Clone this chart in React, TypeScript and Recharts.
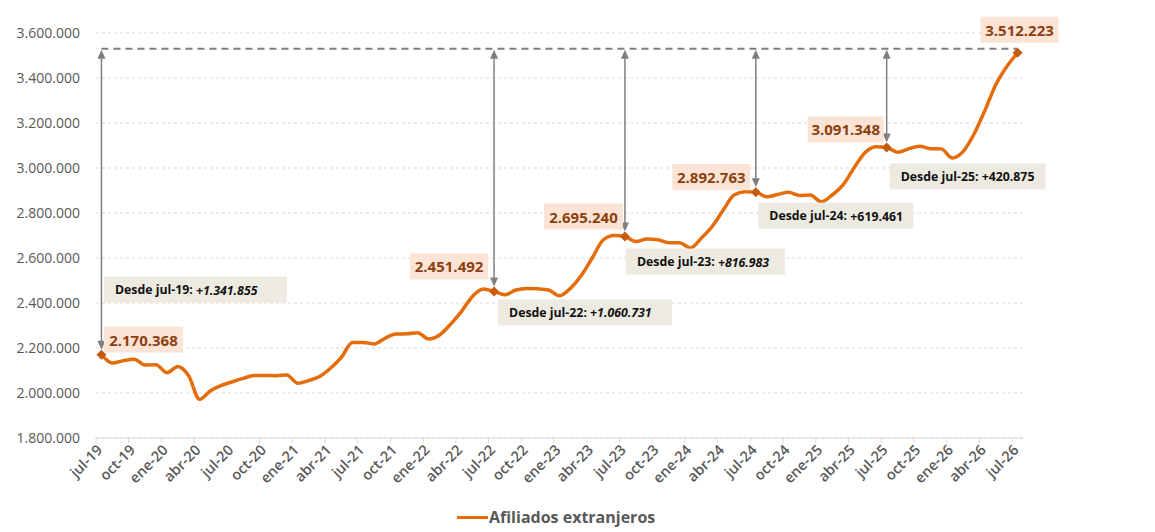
import React from "react";
import { LineChart, Line, XAxis, YAxis, CartesianGrid, ReferenceLine, Legend } from "recharts";

const months = [
  "jul-19", "ago-19", "sep-19", "oct-19", "nov-19", "dic-19",
  "ene-20", "feb-20", "mar-20", "abr-20", "may-20", "jun-20", "jul-20", "ago-20", "sep-20", "oct-20", "nov-20", "dic-20",
  "ene-21", "feb-21", "mar-21", "abr-21", "may-21", "jun-21", "jul-21", "ago-21", "sep-21", "oct-21", "nov-21", "dic-21",
  "ene-22", "feb-22", "mar-22", "abr-22", "may-22", "jun-22", "jul-22", "ago-22", "sep-22", "oct-22", "nov-22", "dic-22",
  "ene-23", "feb-23", "mar-23", "abr-23", "may-23", "jun-23", "jul-23", "ago-23", "sep-23", "oct-23", "nov-23", "dic-23",
  "ene-24", "feb-24", "mar-24", "abr-24", "may-24", "jun-24", "jul-24", "ago-24", "sep-24", "oct-24", "nov-24", "dic-24",
  "ene-25", "feb-25", "mar-25", "abr-25", "may-25", "jun-25", "jul-25", "ago-25", "sep-25", "oct-25", "nov-25", "dic-25",
  "ene-26", "feb-26", "mar-26", "abr-26", "may-26", "jun-26", "jul-26",
];

// afiliados extranjeros, one value per month
const affiliates = [
  2170368, 2133000, 2144000, 2150000, 2124000, 2126000,
  2090000, 2118000, 2076000, 1972000, 2010000, 2034000, 2050000, 2065000, 2078000, 2078000, 2077000, 2080000,
  2043000, 2055000, 2073000, 2110000, 2158000, 2224000, 2225000, 2218000, 2243000, 2262000, 2263000, 2268000,
  2240000, 2258000, 2305000, 2362000, 2428000, 2462000, 2451492, 2437000, 2458000, 2465000, 2463000, 2458000,
  2432000, 2465000, 2522000, 2600000, 2680000, 2700000, 2695240, 2673000, 2684000, 2681000, 2668000, 2668000,
  2645000, 2688000, 2740000, 2812000, 2880000, 2895000, 2892763, 2872000, 2882000, 2892000, 2878000, 2880000,
  2850000, 2880000, 2925000, 3000000, 3068000, 3095000, 3091348, 3070000, 3085000, 3097000, 3086000, 3085000,
  3045000, 3073000, 3150000, 3255000, 3370000, 3450000, 3512223,
];

const xTickMonths = [
  "jul-19", "oct-19", "ene-20", "abr-20", "jul-20", "oct-20", "ene-21", "abr-21", "jul-21", "oct-21",
  "ene-22", "abr-22", "jul-22", "oct-22", "ene-23", "abr-23", "jul-23", "oct-23", "ene-24", "abr-24",
  "jul-24", "oct-24", "ene-25", "abr-25", "jul-25", "oct-25", "ene-26", "abr-26", "jul-26",
];

const yTicks = [1800000, 2000000, 2200000, 2400000, 2600000, 2800000, 3000000, 3200000, 3400000, 3600000];

const highlightMonths = ["jul-19", "jul-22", "jul-23", "jul-24", "jul-25", "jul-26"];
const sinceMonths = ["jul-19", "jul-22", "jul-23", "jul-24", "jul-25"];
const sinceGains = [1341855, 1060731, 816983, 619461, 420875];
const sinceItalic = [true, true, true, false, false];

const data = months.map((m, i) => ({ idx: i, month: m, value: affiliates[i] }));
const lastIdx = months.length - 1;
const lastValue = affiliates[lastIdx];

const W = 1155;
const H = 532;
const PLOT_LEFT = 96;
const PLOT_RIGHT = 1023;
const HALF_STEP = (PLOT_RIGHT - PLOT_LEFT) / months.length / 2;

const FONT = "'Open Sans', 'Noto Sans', sans-serif";
const ORANGE = "#E46C0A";
const MARKER = "#C55A11";
const VALUE_TEXT = "#8E3F10";
const VALUE_BG = "#FBE4D5";
const SINCE_BG = "#EDEBE1";
const GREY = "#7F7F7F";
const AXIS_TEXT = "#595959";

// box placement relative to each highlighted point (px)
const calloutLayout: Record<string, any> = {
  "jul-19": { vx: 2.5, vy: -28, vw: 79, sx: 2.5, sy: -78, sw: 183 },
  "jul-22": { vx: -84, vy: -38, vw: 78, sx: 4, sy: 8, sw: 174 },
  "jul-23": { vx: -81, vy: -33, vw: 79, sx: 1, sy: 12, sw: 159 },
  "jul-24": { vx: -83.5, vy: -28, vw: 78, sx: 2.5, sy: 10.5, sw: 155 },
  "jul-25": { vx: -79, vy: -31, vw: 76, sx: 3, sy: 16, sw: 156 },
  "jul-26": { vx: -37, vy: -36, vw: 78 },
};

const fmt = (n: number) => Math.round(n).toString().replace(/\B(?=(\d{3})+(?!\d))/g, ".");

const MonthTick = (props: any) => {
  const { x, y, payload } = props;
  const tx = x - HALF_STEP;
  return (
    <g>
      <line x1={tx} x2={tx} y1={y} y2={y + 5} stroke="#D9D9D9" strokeWidth={1} />
      <text
        transform={`translate(${x + 2},${y + 13}) rotate(-45)`}
        textAnchor="end"
        fill={AXIS_TEXT}
        fontSize={14.5}
        fontWeight={600}
        fontFamily={FONT}
      >
        {months[payload.value]}
      </text>
    </g>
  );
};

const Callout = (props: any) => {
  const { cx, cy, index } = props;
  const month = months[index];
  const lay = calloutLayout[month];
  if (!lay || !highlightMonths.includes(month) || cx == null) return <g key={`d${index}`} />;
  const s = sinceMonths.indexOf(month);
  return (
    <g key={`d${index}`}>
      <path d={`M${cx},${cy - 5} L${cx + 5},${cy} L${cx},${cy + 5} L${cx - 5},${cy} Z`} fill={MARKER} />
      <rect x={cx + lay.vx} y={cy + lay.vy} width={lay.vw} height={26} fill={VALUE_BG} />
      <text
        x={cx + lay.vx + lay.vw / 2}
        y={cy + lay.vy + 13}
        textAnchor="middle"
        dominantBaseline="central"
        fontSize={15}
        fontWeight={700}
        fontFamily={FONT}
        fill={VALUE_TEXT}
      >
        {fmt(affiliates[index])}
      </text>
      {s >= 0 && (
        <g>
          <rect x={cx + lay.sx} y={cy + lay.sy} width={lay.sw} height={26} fill={SINCE_BG} />
          <text
            x={cx + lay.sx + 11}
            y={cy + lay.sy + 13}
            dominantBaseline="central"
            fontSize={12.3}
            fontWeight={700}
            fontFamily={FONT}
            fill="#111"
          >
            {`Desde ${month}: `}
            <tspan fontStyle={sinceItalic[s] ? "italic" : "normal"}>{`+${fmt(sinceGains[s])}`}</tspan>
          </text>
        </g>
      )}
    </g>
  );
};

const DashedGuide = (props: any) => {
  const { x1, y1, x2, y2 } = props;
  return <line x1={x1} y1={y1 - 4} x2={x2} y2={y2 - 4} stroke={GREY} strokeWidth={2} strokeDasharray="7 5" />;
};

const DoubleArrow = (props: any) => {
  const { x1, y1, x2, y2 } = props;
  const top = Math.min(y1, y2) - 3;
  const bottom = Math.max(y1, y2) - 5;
  const x = x1 ?? x2;
  return (
    <g>
      <line x1={x} x2={x} y1={top + 6} y2={bottom - 6} stroke={GREY} strokeWidth={1.5} />
      <path d={`M${x},${top} L${x - 4},${top + 9} L${x + 4},${top + 9} Z`} fill={GREY} />
      <path d={`M${x},${bottom} L${x - 4},${bottom - 9} L${x + 4},${bottom - 9} Z`} fill={GREY} />
    </g>
  );
};

const LegendContent = () => (
  <div style={{ height: 24, display: "flex", alignItems: "center", fontFamily: FONT }}>
    <span style={{ display: "inline-block", width: 31, height: 3, background: ORANGE }} />
    <span style={{ fontSize: 16, fontWeight: 700, color: AXIS_TEXT, marginLeft: 1 }}>Afiliados extranjeros</span>
  </div>
);

export default function App() {
  return (
    <div style={{ position: "absolute", left: 0, top: 0, width: W, height: H, background: "#fff" }}>
      <LineChart width={W} height={H} data={data} margin={{ top: 33, right: W - PLOT_RIGHT, bottom: 10, left: 0 }}>
        <CartesianGrid vertical={false} stroke="#D9D9D9" strokeDasharray="3 3" />
        <XAxis
          dataKey="idx"
          type="number"
          domain={[-0.5, lastIdx + 0.5]}
          ticks={xTickMonths.map((m) => months.indexOf(m))}
          tick={<MonthTick />}
          tickSize={0}
          tickMargin={0}
          tickLine={false}
          axisLine={{ stroke: "#D9D9D9" }}
          height={60}
          interval={0}
        />
        <YAxis
          type="number"
          domain={[yTicks[0], yTicks[yTicks.length - 1]]}
          ticks={yTicks}
          tickFormatter={fmt}
          width={PLOT_LEFT}
          axisLine={false}
          tickLine={false}
          tickSize={6}
          tickMargin={10}
          tick={{ fill: AXIS_TEXT, fontSize: 14, fontFamily: FONT }}
        />
        <ReferenceLine
          segment={[{ x: 0, y: lastValue }, { x: lastIdx, y: lastValue }]}
          shape={(p: any) => <DashedGuide {...p} />}
          ifOverflow="visible"
        />
        {sinceMonths.map((m) => {
          const i = months.indexOf(m);
          return (
            <ReferenceLine
              key={m}
              segment={[{ x: i, y: lastValue }, { x: i, y: affiliates[i] }]}
              shape={(p: any) => <DoubleArrow {...p} />}
              ifOverflow="visible"
            />
          );
        })}
        <Line
          dataKey="value"
          type="monotone"
          stroke={ORANGE}
          strokeWidth={3.5}
          dot={(p: any) => <Callout {...p} />}
          activeDot={false}
          isAnimationActive={false}
        />
        <Legend verticalAlign="bottom" content={<LegendContent />} wrapperStyle={{ left: 457, width: 240, bottom: 3 }} />
      </LineChart>
    </div>
  );
}
